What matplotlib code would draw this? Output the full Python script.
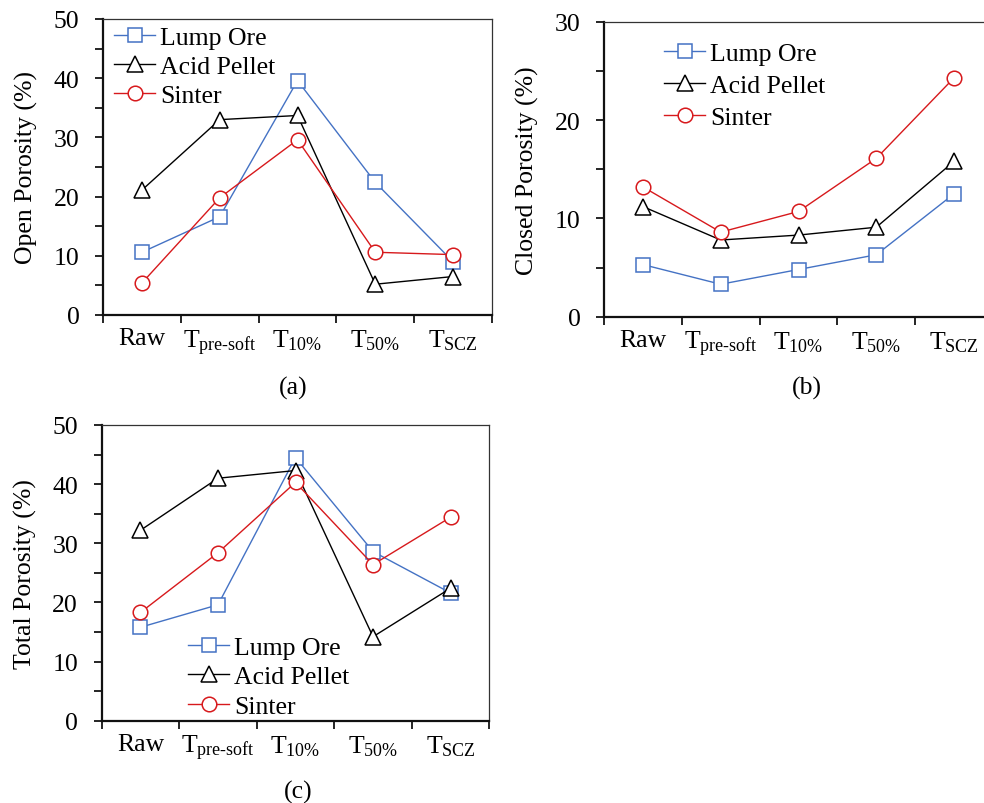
import matplotlib
matplotlib.use("Agg")
import matplotlib.pyplot as plt
from matplotlib.ticker import MultipleLocator, FixedLocator

plt.rcParams["font.family"] = ["Liberation Serif", "DejaVu Serif"]
plt.rcParams["mathtext.fontset"] = "custom"
plt.rcParams["mathtext.rm"] = "Liberation Serif"
plt.rcParams["mathtext.it"] = "Liberation Serif:italic"
plt.rcParams["mathtext.bf"] = "Liberation Serif:bold"

# Categories (temperature stages)
stages = ["Raw", r"T$_{\mathrm{pre}\text{-}\mathrm{soft}}$", r"T$_{\mathrm{10\%}}$",
          r"T$_{\mathrm{50\%}}$", r"T$_{\mathrm{SCZ}}$"]
series_names = ["Lump Ore", "Acid Pellet", "Sinter"]

# Open porosity (%)
open_lump = [10.6, 16.6, 39.6, 22.4, 9.0]
open_pellet = [21.1, 33.0, 33.7, 5.2, 6.5]
open_sinter = [5.4, 19.8, 29.6, 10.6, 10.2]

# Closed porosity (%)
closed_lump = [5.3, 3.3, 4.8, 6.3, 12.5]
closed_pellet = [11.2, 7.8, 8.3, 9.1, 15.8]
closed_sinter = [13.2, 8.6, 10.7, 16.1, 24.3]

# Total porosity (%)
total_lump = [15.8, 19.6, 44.5, 28.6, 21.6]
total_pellet = [32.2, 41.0, 42.3, 14.2, 22.4]
total_sinter = [18.3, 28.4, 40.3, 26.4, 34.4]

BLUE = "#4472C4"
BLACK = "#000000"
RED = "#D7191C"
styles = [
    dict(color=BLUE, marker="s", ms=10.3),
    dict(color=BLACK, marker="^", ms=11.5),
    dict(color=RED, marker="o", ms=10.5),
]

FS = 18.5

fig = plt.figure(figsize=(9.84, 8.04), dpi=100)


def panel(rect, data, ylabel, ymax, leg_anchor, leg_spacing, tag, tag_xy):
    ax = fig.add_axes(rect)
    x = list(range(len(stages)))
    handles = []
    for vals, st, name in zip(data, styles, series_names):
        h, = ax.plot(x, vals, color=st["color"], lw=1.0, marker=st["marker"],
                     ms=st["ms"], mfc="white", mec=st["color"], mew=1.1,
                     label=name, clip_on=False, zorder=3)
        handles.append(h)
    ax.set_xlim(-0.5, len(stages) - 0.5)
    ax.set_ylim(0, ymax)
    # category boundaries as major ticks, labels at category centres
    ax.xaxis.set_major_locator(FixedLocator([i - 0.5 for i in range(len(stages) + 1)]))
    ax.xaxis.set_major_formatter(plt.NullFormatter())
    ax.xaxis.set_minor_locator(FixedLocator(x))
    ax.set_xticklabels(stages, minor=True, fontsize=FS)
    ax.tick_params(axis="x", which="major", direction="out", length=6, width=1.2)
    ax.tick_params(axis="x", which="minor", length=0, pad=9)
    ax.yaxis.set_major_locator(MultipleLocator(10))
    ax.yaxis.set_minor_locator(MultipleLocator(5))
    ax.tick_params(axis="y", which="both", direction="out", length=6, width=1.2,
                   labelsize=FS, pad=11)
    for side in ("left", "bottom"):
        ax.spines[side].set_linewidth(1.6)
        ax.spines[side].set_color("#111111")
    for side in ("top", "right"):
        ax.spines[side].set_linewidth(0.9)
        ax.spines[side].set_color("#333333")
    ax.set_ylabel(ylabel, fontsize=FS, labelpad=11)
    ax.legend(handles=handles, loc="upper left", bbox_to_anchor=leg_anchor,
              bbox_transform=fig.transFigure, frameon=False, fontsize=FS,
              handlelength=1.6, handletextpad=0.2, labelspacing=leg_spacing,
              borderaxespad=0, borderpad=0)
    fig.text(tag_xy[0] / 984, 1 - tag_xy[1] / 804, tag, fontsize=FS,
             ha="center", va="center")
    return ax


panel([103 / 984, 1 - 316 / 804, 389 / 984, 296 / 804],
      [open_lump, open_pellet, open_sinter], "Open Porosity (%)", 50,
      (114 / 984, 1 - 27 / 804), 0.23, "(a)", (293, 388))

panel([604 / 984, 1 - 317.7 / 804, 389 / 984, 295 / 804],
      [closed_lump, closed_pellet, closed_sinter], "Closed Porosity (%)", 30,
      (664 / 984, 1 - 43 / 804), 0.36, "(b)", (807, 388))

panel([101.7 / 984, 1 - 721.7 / 804, 387.6 / 984, 295.7 / 804],
      [total_lump, total_pellet, total_sinter], "Total Porosity (%)", 50,
      (188 / 984, 1 - 637 / 804), 0.25, "(c)", (298, 792))

fig.savefig("out.png", dpi=100)
